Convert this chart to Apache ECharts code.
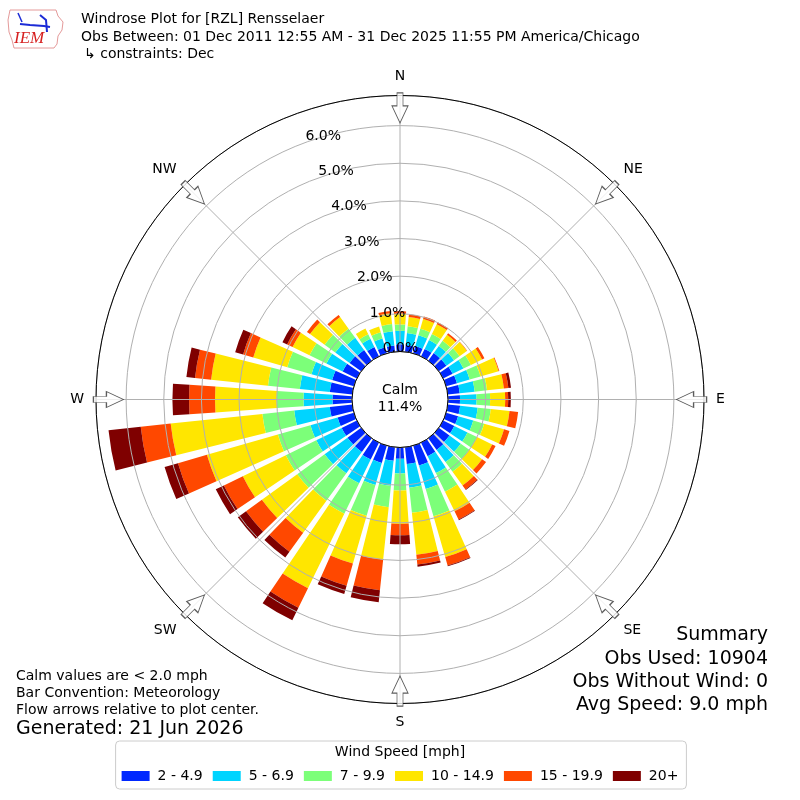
<!DOCTYPE html>
<html><head><meta charset="utf-8">
<script src="https://cdn.jsdelivr.net/npm/echarts@6/dist/echarts.min.js"></script>
<style>html,body{margin:0;padding:0;background:#fff}#c{width:800px;height:800px}</style>
</head><body><div id="c"></div>
<script>
// ---- data ----
const directions = [0,10,20,30,40,50,60,70,80,90,100,110,120,130,140,150,160,170,180,190,200,210,220,230,240,250,260,270,280,290,300,310,320,330,340,350];
const speedBins = ['2 - 4.9','5 - 6.9','7 - 9.9','10 - 14.9','15 - 19.9','20+'];
const binColors = ['#0028ff','#00d4ff','#7cff79','#ffe600','#ff4800','#7f0000'];
const speed2to5   = [0.19,0.18,0.20,0.22,0.25,0.25,0.28,0.30,0.32,0.32,0.33,0.33,0.33,0.35,0.38,0.40,0.55,0.45,0.30,0.36,0.48,0.50,0.45,0.45,0.45,0.45,0.60,0.52,0.60,0.60,0.42,0.38,0.35,0.28,0.17,0.17];
const speed5to7   = [0.36,0.32,0.30,0.26,0.23,0.25,0.32,0.35,0.40,0.44,0.47,0.42,0.39,0.37,0.40,0.50,0.65,0.63,0.39,0.67,0.61,0.70,0.70,0.75,0.75,0.75,0.95,0.77,0.80,0.57,0.48,0.47,0.40,0.24,0.24,0.38];
const speed7to10  = [0.17,0.18,0.18,0.18,0.17,0.18,0.22,0.30,0.33,0.36,0.35,0.30,0.28,0.28,0.32,0.55,0.75,0.67,0.45,0.57,0.85,0.90,0.90,0.90,0.90,0.90,0.85,0.71,0.85,0.67,0.50,0.35,0.30,0.13,0.17,0.19];
const speed10to15 = [0.28,0.25,0.27,0.29,0.20,0.24,0.33,0.50,0.45,0.40,0.50,0.55,0.45,0.42,0.45,0.58,1.13,1.12,0.89,1.40,1.32,2.20,1.05,1.16,1.27,1.96,2.45,1.64,1.52,0.94,0.50,0.48,0.38,0.17,0.16,0.29];
const speed15to20 = [0.07,0.07,0.07,0.06,0.05,0.01,0.07,0.02,0.12,0.08,0.23,0.15,0.10,0.13,0.13,0.24,0.23,0.26,0.30,0.82,0.61,0.58,0.62,0.52,0.56,0.80,0.80,0.69,0.43,0.28,0.16,0.10,0.07,0.00,0.00,0.06];
const speed20plus = [0,0,0,0,0,0,0,0,0.07,0.07,0,0,0,0,0.02,0.02,0.02,0.06,0.24,0.32,0.23,0.37,0.19,0.27,0.24,0.37,0.86,0.44,0.23,0.22,0.14,0,0,0,0,0];
const seriesValues = [speed2to5, speed5to7, speed7to10, speed10to15, speed15to20, speed20plus];
const radiusTicks = [0,1,2,3,4,5,6];
const radiusMax = 6.8;
const compassLabels = {0:'N',45:'NE',90:'E',135:'SE',180:'S',225:'SW',270:'W',315:'NW'};
const arrowDirs = [0,45,90,135,180,225,270,315];
const arrowRadius = 6.47;
const calmPct = 11.4;
const obsUsed = 10904, obsWithoutWind = 0, avgSpeed = 9.0;

// ---- chart ----
const FONT = 'DejaVu Sans';
const chart = echarts.init(document.getElementById('c'));
const C = [400, 399.5], R = [48, 304];
const arrowPath = 'path://M5,0 L11,0 L11,13 L16,13 L8,30 L0,13 L5,13 Z';

const series = speedBins.map((name, i) => ({
  name, type: 'bar', coordinateSystem: 'polar', polarIndex: 0, stack: 'wind',
  data: seriesValues[i], barCategoryGap: '20%',
  itemStyle: {color: binColors[i]}, silent: true, z: 2
}));
series.push({
  type: 'scatter', coordinateSystem: 'polar', polarIndex: 1, z: 9, silent: true,
  symbol: arrowPath, symbolSize: [16, 30],
  itemStyle: {color: '#fff', borderColor: '#333', borderWidth: 1},
  data: arrowDirs.map(d => ({value: [arrowRadius, d], symbolRotate: -d}))
});

const txt = (x, y, text, size, align, extra) => ({
  type: 'text', x, y, z: 20,
  style: Object.assign({text, font: size + 'px "' + FONT + '"', fill: '#000', align: align || 'left', verticalAlign: 'middle'}, extra || {})
});

chart.setOption({
  animation: false,
  backgroundColor: '#fff',
  textStyle: {fontFamily: FONT},
  polar: [{center: C, radius: R}, {center: C, radius: R}, {center: C, radius: R}],
  angleAxis: [
    {polarIndex: 0, type: 'category', data: directions, startAngle: 95, clockwise: true,
     axisLine: {show: false}, axisTick: {show: false}, axisLabel: {show: false}, splitLine: {show: false}},
    {polarIndex: 1, type: 'value', min: 0, max: 360, interval: 45, startAngle: 90, clockwise: true, z: 6,
     axisLine: {show: true, lineStyle: {color: '#000', width: 1}}, axisTick: {show: false},
     axisLabel: {show: true, margin: 12, color: '#000', fontSize: 14, fontFamily: FONT, align: 'center', verticalAlign: 'middle',
       formatter: v => compassLabels[v] !== undefined && v < 360 ? compassLabels[v] : ''},
     splitLine: {show: true, lineStyle: {color: '#b0b0b0', width: 1}}},
    {polarIndex: 2, type: 'value', min: 0, max: 360, startAngle: 110, show: false}
  ],
  radiusAxis: [
    {polarIndex: 0, min: 0, max: radiusMax, show: false},
    {polarIndex: 1, min: 0, max: radiusMax, interval: 1, z: 5,
     axisLine: {show: false}, axisTick: {show: false}, axisLabel: {show: false},
     splitLine: {show: true, lineStyle: {color: '#b0b0b0', width: 1}}},
    {polarIndex: 2, min: 0, max: radiusMax, interval: 1, z: 7,
     axisLine: {show: false}, axisTick: {show: false}, splitLine: {show: false},
     axisLabel: {show: true, margin: -18, align: 'center', verticalAlign: 'middle', color: '#000', fontSize: 14, fontFamily: FONT,
       formatter: v => radiusTicks.includes(v) ? v.toFixed(1) + '%' : ''}}
  ],
  legend: {
    data: speedBins, top: 741, left: 'center', selectedMode: false,
    icon: 'rect', itemWidth: 28, itemHeight: 10, itemGap: 10,
    padding: [28, 8, 6, 6], borderColor: '#cccccc', borderWidth: 1, borderRadius: 4,
    textStyle: {fontSize: 14, fontFamily: FONT, color: '#000', padding: [0, 0, 0, 3]}
  },
  graphic: [
    // IEM logo (simplified)
    {type: 'polygon', z: 20, shape: {points: [[10,10],[56,10],[58,16],[63,22],[62,30],[58,36],[57,44],[54,48],[14,48],[12,40],[9,32],[8,20]]},
     style: {fill: 'none', stroke: '#e49a9a', lineWidth: 1}},
    {type: 'polyline', z: 20, shape: {points: [[20,24],[30,25],[44,26],[50,27]]}, style: {stroke: '#1c2bd6', lineWidth: 2}},
    {type: 'polyline', z: 20, shape: {points: [[18,13],[22,22]]}, style: {stroke: '#1c2bd6', lineWidth: 1.5}},
    {type: 'polyline', z: 20, shape: {points: [[40,15],[46,20],[47,32]]}, style: {stroke: '#1c2bd6', lineWidth: 2}},
    txt(14, 39, 'IEM', 17, 'left', {font: 'italic 17px "Liberation Serif"', fill: '#d62020'}),
    // titles
    txt(81, 19, 'Windrose Plot for [RZL] Rensselaer', 14),
    txt(81, 37, 'Obs Between: 01 Dec 2011 12:55 AM - 31 Dec 2025 11:55 PM America/Chicago', 14),
    txt(84, 54, '\u21b3 constraints: Dec', 14),
    // calm
    txt(400, 390, 'Calm', 14, 'center'),
    txt(400, 407, calmPct.toFixed(1) + '%', 14, 'center'),
    // notes
    txt(16, 676, 'Calm values are < 2.0 mph', 14),
    txt(16, 693, 'Bar Convention: Meteorology', 14),
    txt(16, 710, 'Flow arrows relative to plot center.', 14),
    txt(16, 729, 'Generated: 21 Jun 2026', 19),
    // summary
    txt(768, 635, 'Summary', 19, 'right'),
    txt(768, 659, 'Obs Used: ' + obsUsed, 19, 'right'),
    txt(768, 682, 'Obs Without Wind: ' + obsWithoutWind, 19, 'right'),
    txt(768, 705, 'Avg Speed: ' + avgSpeed.toFixed(1) + ' mph', 19, 'right'),
    // legend title
    txt(400, 752, 'Wind Speed [mph]', 14, 'center')
  ],
  series
});
</script></body></html>
